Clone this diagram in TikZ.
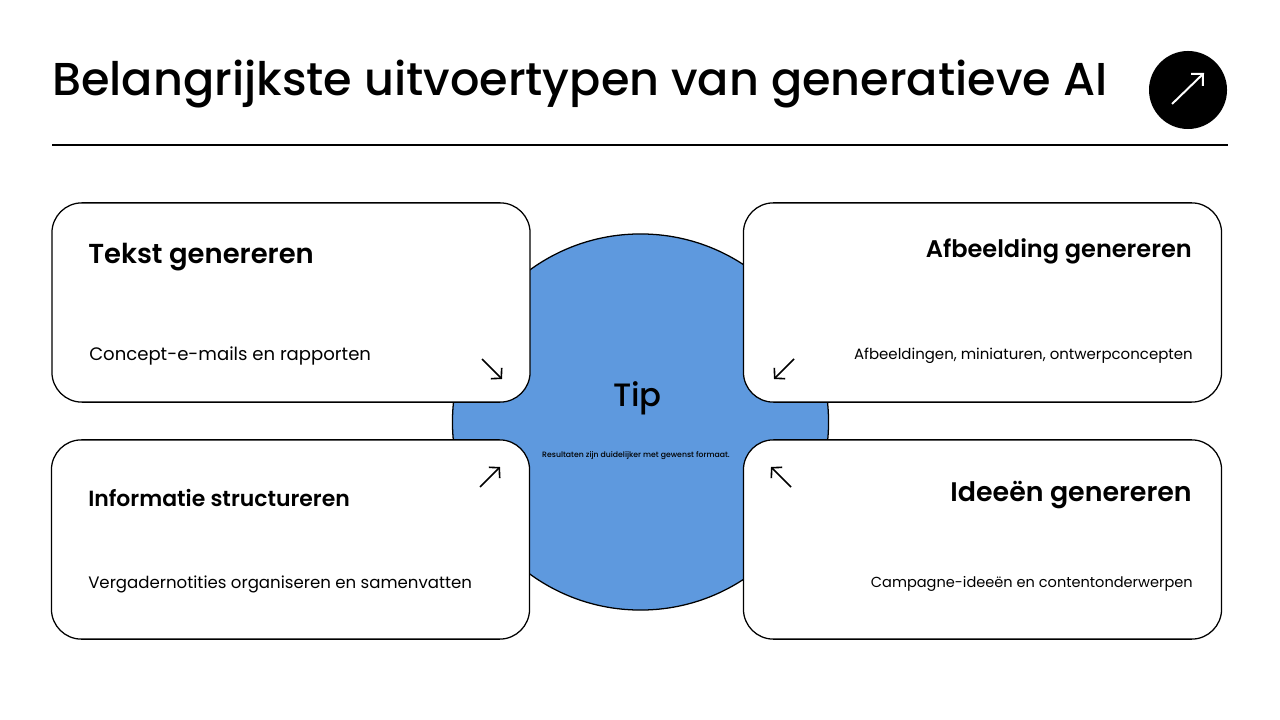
\documentclass[tikz,border=0pt]{standalone}
\usepackage{fontspec}
\setmainfont{Poppins}
\newfontfamily\medfont{Poppins Medium}
\newfontfamily\semifont{Poppins SemiBold}
\usepackage{xcolor}
\usetikzlibrary{arrows.meta,positioning,calc}
\definecolor{tipblue}{RGB}{94,153,222}
\tikzset{
    card/.style={draw=black, line width=0.9pt, fill=white, rounded corners=0.75cm, minimum width=11.95cm, minimum height=4.98cm, inner sep=0pt},
    headl/.style={anchor=west, inner sep=0pt, font=\fontsize{19.5}{22}\selectfont\semifont},
    headr/.style={anchor=east, inner sep=0pt, font=\fontsize{17.1}{20}\selectfont\semifont},
    subl/.style={anchor=west, inner sep=0pt, font=\fontsize{12.85}{15}\selectfont},
    subr/.style={anchor=east, inner sep=0pt, font=\fontsize{10.65}{14}\selectfont},
    pointer/.style={-{Straight Barb[length=5pt,width=11pt]}, line width=1.15pt, black},
}
\begin{document}
\begin{tikzpicture}[x=0.025cm,y=-0.025cm]
    \useasboundingbox (0,0) rectangle (1280,720);
    \fill[white] (0,0) rectangle (1280,720);

    % Title
    \node[anchor=west, inner sep=0pt, font=\fontsize{32.8}{40}\selectfont\medfont] (title) at (52,84) {Belangrijkste uitvoertypen van generatieve AI};
    \coordinate (ruleL) at (52,145);
    \coordinate (ruleR) at (1228,145);
    \draw[line width=1.4pt] (ruleL) -- (ruleR);

    % Badge
    \node[circle, fill=black, minimum size=1.95cm, inner sep=0pt] (badge) at (1188,90) {};
    \coordinate (badgeA) at (1172,104);
    \coordinate (badgeB) at (1204,73);
    \draw[-{Straight Barb[length=6pt,width=12pt]}, line width=1.4pt, white] (badgeA) -- (badgeB);

    % Middle circle
    \node[circle, draw=black, line width=0.9pt, fill=tipblue, minimum size=9.4cm, inner sep=0pt] (tipcircle) at (640.5,422) {};
    \node[inner sep=0pt, font=\fontsize{23}{26}\selectfont\medfont] (tiplabel) at (637.5,398.5) {Tip};
    \node[inner sep=0pt, font=\fontsize{5.5}{7}\selectfont\medfont] (tiptext) at (636,456) {Resultaten zijn duidelijker met gewenst formaat.};

    % Cards
    \node[card] (tekst) at (291,302.5) {};
    \node[card] (afbeelding) at (982.5,302.5) {};
    \node[card] (informatie) at (290.5,539.5) {};
    \node[card] (ideeen) at (982.5,539.5) {};

    % Card texts
    \node[headl] (tekstH) at (88,257) {Tekst genereren};
    \node[subl] (tekstS) at (89,356) {Concept-e-mails en rapporten};
    \node[headr] (afbeeldingH) at (1192,251) {Afbeelding genereren};
    \node[subr] (afbeeldingS) at (1193,356) {Afbeeldingen, miniaturen, ontwerpconcepten};
    \node[headl, font=\fontsize{15.6}{19}\selectfont\semifont] (informatieH) at (88,498) {Informatie structureren};
    \node[subl, font=\fontsize{11.8}{15}\selectfont] (informatieS) at (88,584) {Vergadernotities organiseren en samenvatten};
    \node[headr, font=\fontsize{19.1}{23}\selectfont\semifont] (ideeenH) at (1192,495) {Ideeën genereren};
    \node[subr, font=\fontsize{10.35}{14}\selectfont] (ideeenS) at (1193,584) {Campagne-ideeën en contentonderwerpen};

    % Arrows
    \coordinate (a1) at (482,359);
    \coordinate (b1) at (502,379);
    \draw[pointer] (a1) -- (b1);
    \coordinate (a2) at (794,359);
    \coordinate (b2) at (774,379);
    \draw[pointer] (a2) -- (b2);
    \coordinate (a3) at (480,487);
    \coordinate (b3) at (500,467);
    \draw[pointer] (a3) -- (b3);
    \coordinate (a4) at (791,487);
    \coordinate (b4) at (771,467);
    \draw[pointer] (a4) -- (b4);
\end{tikzpicture}
\end{document}
